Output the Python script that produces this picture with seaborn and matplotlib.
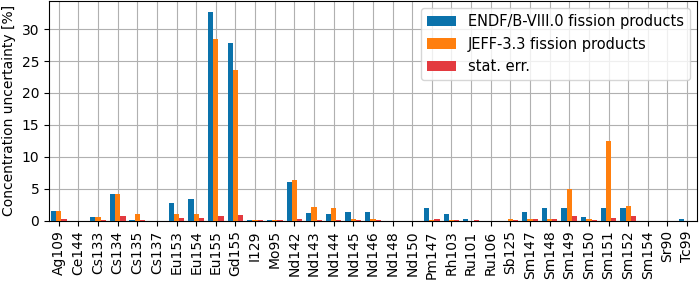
import numpy as np
import pandas as pd
import matplotlib
matplotlib.use('Agg')
import matplotlib.pyplot as plt
import seaborn as sns

# =========== DATA =============
nuclides = ['Ag109', 'Ce144', 'Cs133', 'Cs134', 'Cs135', 'Cs137', 'Eu153', 'Eu154',
            'Eu155', 'Gd155', 'I129', 'Mo95', 'Nd142', 'Nd143', 'Nd144', 'Nd145',
            'Nd146', 'Nd148', 'Nd150', 'Pm147', 'Rh103', 'Ru101', 'Ru106', 'Sb125',
            'Sm147', 'Sm148', 'Sm149', 'Sm150', 'Sm151', 'Sm152', 'Sm154', 'Sr90', 'Tc99']

endf = [1.45, 0.0, 0.6, 4.15, 0.1, 0.0, 2.8, 3.4,
        32.7, 27.9, 0.16, 0.1, 6.1, 1.15, 1.05, 1.3,
        1.3, 0.0, 0.0, 1.9, 1.1, 0.3, 0.0, 0.0,
        1.35, 2.05, 1.95, 0.5, 1.95, 1.95, 0.0, 0.0, 0.2]

jeff = [1.5, 0.0, 0.6, 4.15, 1.05, 0.0, 1.05, 1.05,
        28.5, 23.6, 0.05, 0.12, 6.3, 2.15, 1.95, 0.3,
        0.3, 0.0, 0.0, 0.15, 0.1, 0.0, 0.0, 0.25,
        0.3, 0.25, 4.9, 0.2, 12.4, 2.25, 0.0, 0.0, 0.0]

stat = [0.3, 0.0, 0.05, 0.75, 0.05, 0.0, 0.4, 0.45,
        0.75, 0.9, 0.05, 0.05, 0.3, 0.05, 0.05, 0.05,
        0.05, 0.0, 0.0, 0.3, 0.1, 0.05, 0.0, 0.05,
        0.2, 0.3, 0.72, 0.1, 0.4, 0.65, 0.0, 0.0, 0.0]

series = ['ENDF/B-VIII.0 fission products', 'JEFF-3.3 fission products', 'stat. err.']
colors = ['#0a72ab', '#ff7f0e', '#e33a3f']

df = pd.DataFrame({'nuclide': nuclides * 3,
                   'value': endf + jeff + stat,
                   'source': np.repeat(series, len(nuclides))})

# =========== PLOT =============
fig = plt.figure(figsize=(6.99, 2.81), dpi=100)
ax = fig.add_axes([0.070, 0.215, 0.927, 0.781])

sns.barplot(data=df, x='nuclide', y='value', hue='source', order=nuclides,
            hue_order=series, palette=colors, saturation=1, width=0.8,
            linewidth=0, ax=ax, zorder=3)

ax.grid(True, color='#b0b0b0', linewidth=0.8, zorder=0)
ax.set_axisbelow(True)
ax.set_xlim(-0.5, len(nuclides) - 0.5)
ax.set_ylim(0, 34.4)
ax.set_xlabel('')
ax.set_ylabel('Concentration uncertainty [%]', fontsize=10)
ax.tick_params(axis='x', rotation=90, labelsize=10)
ax.tick_params(axis='y', labelsize=10)
ax.legend(loc='upper right', fontsize=10.5)

plt.savefig('out.png', dpi=100)
plt.close()
